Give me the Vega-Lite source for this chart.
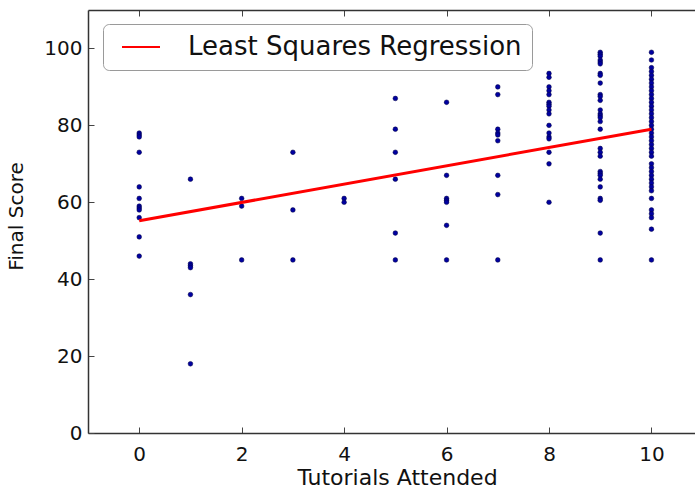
{
  "$schema": "https://vega.github.io/schema/vega-lite/v6.json",
  "width": 607,
  "height": 423,
  "autosize": {"type": "none"},
  "padding": {"left": 88, "top": 10, "right": 0, "bottom": 57},
  "background": "white",
  "config": {
    "view": {"stroke": null},
    "font": "DejaVu Sans",
    "axis": {
      "grid": false,
      "domainColor": "#333333",
      "domainWidth": 1.5,
      "tickColor": "#444444",
      "tickWidth": 1,
      "tickSize": -6,
      "labelFont": "DejaVu Sans",
      "labelFontSize": 20,
      "labelColor": "#111111",
      "titleFont": "DejaVu Sans",
      "titleFontSize": 20,
      "titleFontWeight": "normal",
      "titleColor": "#111111"
    }
  },
  "layer": [
    {
      "data": {"values": [
        {"tutorials": 0, "score": 78}, {"tutorials": 0, "score": 77.5}, {"tutorials": 0, "score": 77}, {"tutorials": 0, "score": 73}, {"tutorials": 0, "score": 64}, {"tutorials": 0, "score": 61}, {"tutorials": 0, "score": 59}, {"tutorials": 0, "score": 58.5}, {"tutorials": 0, "score": 58}, {"tutorials": 0, "score": 56}, {"tutorials": 0, "score": 51}, {"tutorials": 0, "score": 46},
        {"tutorials": 1, "score": 66}, {"tutorials": 1, "score": 44}, {"tutorials": 1, "score": 43.5}, {"tutorials": 1, "score": 43}, {"tutorials": 1, "score": 36}, {"tutorials": 1, "score": 18},
        {"tutorials": 2, "score": 61}, {"tutorials": 2, "score": 59}, {"tutorials": 2, "score": 45},
        {"tutorials": 3, "score": 73}, {"tutorials": 3, "score": 58}, {"tutorials": 3, "score": 45},
        {"tutorials": 4, "score": 61}, {"tutorials": 4, "score": 60},
        {"tutorials": 5, "score": 87}, {"tutorials": 5, "score": 79}, {"tutorials": 5, "score": 73}, {"tutorials": 5, "score": 66}, {"tutorials": 5, "score": 52}, {"tutorials": 5, "score": 45},
        {"tutorials": 6, "score": 86}, {"tutorials": 6, "score": 67}, {"tutorials": 6, "score": 61}, {"tutorials": 6, "score": 60.5}, {"tutorials": 6, "score": 60}, {"tutorials": 6, "score": 54}, {"tutorials": 6, "score": 45},
        {"tutorials": 7, "score": 90}, {"tutorials": 7, "score": 88}, {"tutorials": 7, "score": 79}, {"tutorials": 7, "score": 78}, {"tutorials": 7, "score": 77.5}, {"tutorials": 7, "score": 76}, {"tutorials": 7, "score": 67}, {"tutorials": 7, "score": 62}, {"tutorials": 7, "score": 45},
        {"tutorials": 8, "score": 93.5}, {"tutorials": 8, "score": 92.5}, {"tutorials": 8, "score": 90}, {"tutorials": 8, "score": 89}, {"tutorials": 8, "score": 88}, {"tutorials": 8, "score": 86}, {"tutorials": 8, "score": 85.5}, {"tutorials": 8, "score": 85}, {"tutorials": 8, "score": 84}, {"tutorials": 8, "score": 83}, {"tutorials": 8, "score": 80}, {"tutorials": 8, "score": 78}, {"tutorials": 8, "score": 77}, {"tutorials": 8, "score": 76.5}, {"tutorials": 8, "score": 73}, {"tutorials": 8, "score": 70}, {"tutorials": 8, "score": 60},
        {"tutorials": 9, "score": 99}, {"tutorials": 9, "score": 98.5}, {"tutorials": 9, "score": 98}, {"tutorials": 9, "score": 97}, {"tutorials": 9, "score": 96.5}, {"tutorials": 9, "score": 96}, {"tutorials": 9, "score": 93.5}, {"tutorials": 9, "score": 93}, {"tutorials": 9, "score": 91}, {"tutorials": 9, "score": 88}, {"tutorials": 9, "score": 87.5}, {"tutorials": 9, "score": 86.5}, {"tutorials": 9, "score": 84}, {"tutorials": 9, "score": 83}, {"tutorials": 9, "score": 82.5}, {"tutorials": 9, "score": 82}, {"tutorials": 9, "score": 81}, {"tutorials": 9, "score": 79}, {"tutorials": 9, "score": 74}, {"tutorials": 9, "score": 73}, {"tutorials": 9, "score": 72}, {"tutorials": 9, "score": 68}, {"tutorials": 9, "score": 67.5}, {"tutorials": 9, "score": 67}, {"tutorials": 9, "score": 66}, {"tutorials": 9, "score": 64}, {"tutorials": 9, "score": 61}, {"tutorials": 9, "score": 60.5}, {"tutorials": 9, "score": 52}, {"tutorials": 9, "score": 45},
        {"tutorials": 10, "score": 99}, {"tutorials": 10, "score": 97}, {"tutorials": 10, "score": 95}, {"tutorials": 10, "score": 94}, {"tutorials": 10, "score": 93}, {"tutorials": 10, "score": 92}, {"tutorials": 10, "score": 91}, {"tutorials": 10, "score": 90}, {"tutorials": 10, "score": 89}, {"tutorials": 10, "score": 88}, {"tutorials": 10, "score": 87}, {"tutorials": 10, "score": 86}, {"tutorials": 10, "score": 85}, {"tutorials": 10, "score": 84}, {"tutorials": 10, "score": 83}, {"tutorials": 10, "score": 82}, {"tutorials": 10, "score": 81}, {"tutorials": 10, "score": 80}, {"tutorials": 10, "score": 79}, {"tutorials": 10, "score": 78}, {"tutorials": 10, "score": 77}, {"tutorials": 10, "score": 76}, {"tutorials": 10, "score": 75}, {"tutorials": 10, "score": 74}, {"tutorials": 10, "score": 73}, {"tutorials": 10, "score": 72}, {"tutorials": 10, "score": 70}, {"tutorials": 10, "score": 69}, {"tutorials": 10, "score": 68}, {"tutorials": 10, "score": 67}, {"tutorials": 10, "score": 66}, {"tutorials": 10, "score": 65}, {"tutorials": 10, "score": 64}, {"tutorials": 10, "score": 63}, {"tutorials": 10, "score": 61}, {"tutorials": 10, "score": 58}, {"tutorials": 10, "score": 57}, {"tutorials": 10, "score": 56}, {"tutorials": 10, "score": 53}, {"tutorials": 10, "score": 45}
      ]},
      "mark": {"type": "point", "filled": true, "size": 22, "color": "#0000a0", "stroke": "#000040", "strokeWidth": 0.5, "opacity": 1},
      "encoding": {
        "x": {
          "field": "tutorials", "type": "quantitative",
          "scale": {"domain": [-1, 10.85], "nice": false, "zero": false},
          "axis": {"orient": "bottom", "values": [0, 2, 4, 6, 8, 10], "labelPadding": 17, "title": "Tutorials Attended", "titleFontSize": 22, "titleX": 309, "titleY": 34, "titleBaseline": "top", "titleAnchor": "middle", "titleAlign": "center"}
        },
        "y": {
          "field": "score", "type": "quantitative",
          "scale": {"domain": [0, 110], "nice": false, "zero": true},
          "axis": {"values": [0, 20, 40, 60, 80, 100], "labelPadding": 12, "title": "Final Score", "titleAngle": 270, "titleX": -72, "titleY": 206, "titleBaseline": "middle", "titleAlign": "center"}
        }
      }
    },
    {
      "data": {"values": [
        {"tutorials": 0, "score": 55.2, "series": "Least Squares Regression"},
        {"tutorials": 10, "score": 79.0, "series": "Least Squares Regression"}
      ]},
      "mark": {"type": "line", "strokeWidth": 3},
      "encoding": {
        "x": {
          "field": "tutorials", "type": "quantitative",
          "axis": {"orient": "top", "values": [0, 2, 4, 6, 8, 10], "labels": false, "title": null}
        },
        "y": {
          "field": "score", "type": "quantitative",
          "axis": {"values": [0, 20, 40, 60, 80, 100], "labelPadding": 12, "title": "Final Score", "titleAngle": 270, "titleX": -72, "titleY": 206, "titleBaseline": "middle", "titleAlign": "center"}
        },
        "color": {
          "field": "series", "type": "nominal",
          "scale": {"range": ["#ff0000"]},
          "legend": {
            "orient": "none", "legendX": 15, "legendY": 14, "title": null,
            "symbolType": "M-2,0H2", "symbolSize": 361, "symbolStrokeWidth": 1.8, "symbolFillColor": "transparent",
            "symbolOffset": 15, "labelOffset": 34,
            "labelFont": "DejaVu Sans", "labelFontSize": 26, "labelColor": "#111111", "labelLimit": 500,
            "padding": 10, "fillColor": "white", "strokeColor": "#9a9a9a", "cornerRadius": 6
          }
        }
      }
    }
  ]
}
